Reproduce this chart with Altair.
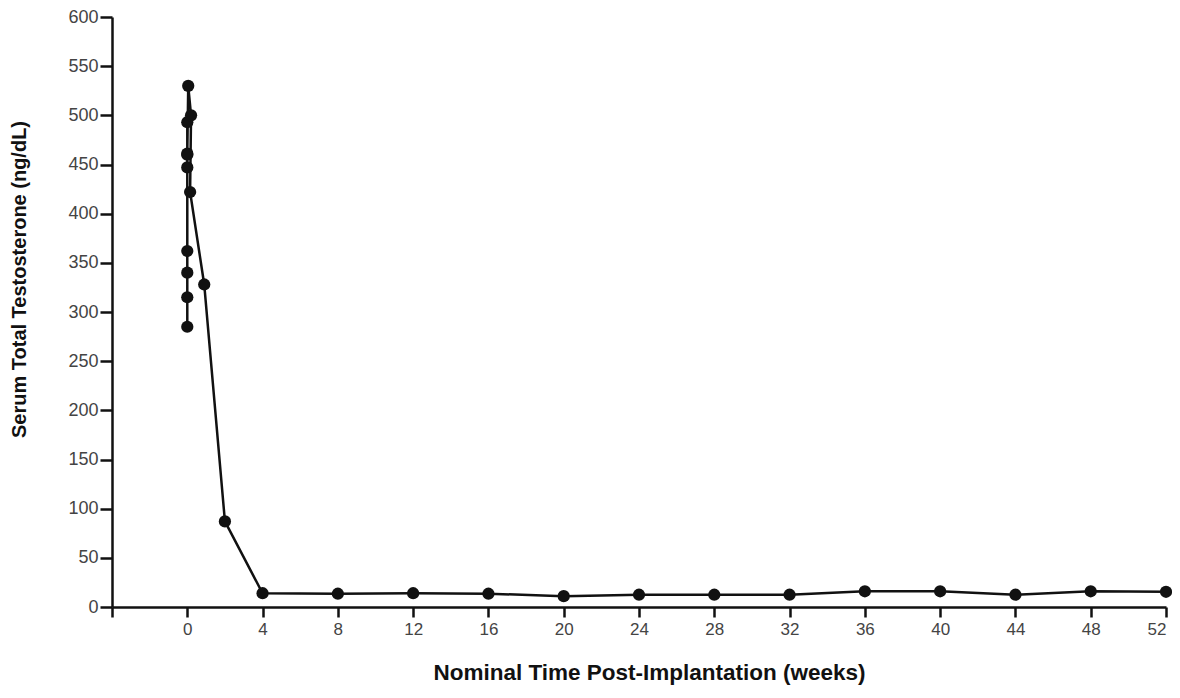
import altair as alt
import pandas as pd

weeks = [0, 0, 0, 0, 0, 0, 0, 0, 0.05, 0.2, 0.15, 0.9, 2, 4, 8, 12, 16, 20, 24, 28, 32, 36, 40, 44, 48, 52]
testosterone = [285, 315, 340, 362, 447, 461, 493, 460, 530, 500, 422, 328, 87, 14, 13.5, 14, 13.5, 11, 12.5, 12.5, 12.5, 16, 16, 12.5, 16, 15.5]
x_ticks = [-4, 0, 4, 8, 12, 16, 20, 24, 28, 32, 36, 40, 44, 48, 52]
y_ticks = list(range(0, 601, 50))

df = pd.DataFrame({"week": weeks, "t": testosterone, "order": list(range(len(weeks)))})

FONT = "Liberation Sans"

x = alt.X("week:Q", scale=alt.Scale(domain=[-4, 52], nice=False, zero=False),
          axis=alt.Axis(values=x_ticks, title="Nominal Time Post-Implantation (weeks)",
                        labelExpr="datum.value < 0 ? '' : datum.label",
                        grid=False, domainColor="#111", domainWidth=2.5, tickColor="#111",
                        tickWidth=2.5, tickSize=10, labelFontSize=17, labelColor="#444",
                        labelFont=FONT, labelPadding=4, titleFont=FONT, titleFontSize=22.5,
                        titleFontWeight="bold", titleColor="#111", titlePadding=24,
                        titleX=537))
y = alt.Y("t:Q", scale=alt.Scale(domain=[0, 600], nice=False),
          axis=alt.Axis(values=y_ticks, title="Serum Total Testosterone (ng/dL)",
                        grid=False, domainColor="#111", domainWidth=2.5, tickColor="#111",
                        tickWidth=2.5, tickSize=12, labelFontSize=18, labelColor="#444",
                        labelFont=FONT, labelPadding=2, titleFont=FONT, titleFontSize=20,
                        titleFontWeight="bold", titleColor="#111",
                        titleX=-83, titleY=262))

line = alt.Chart(df).mark_line(color="#111", strokeWidth=2.5).encode(x=x, y=y, order="order:Q")
pts = alt.Chart(df).mark_circle(color="#111", size=150, opacity=1).encode(x=x, y=y)

chart = (line + pts).properties(
    width=1054, height=590,
    background="white",
    autosize=alt.AutoSizeParams(type="none"),
    padding={"left": 104, "top": 9, "right": 6, "bottom": 84},
).configure_view(strokeWidth=0, stroke=None)

chart.save("out.html", embed_options={"renderer": "svg", "actions": False})
